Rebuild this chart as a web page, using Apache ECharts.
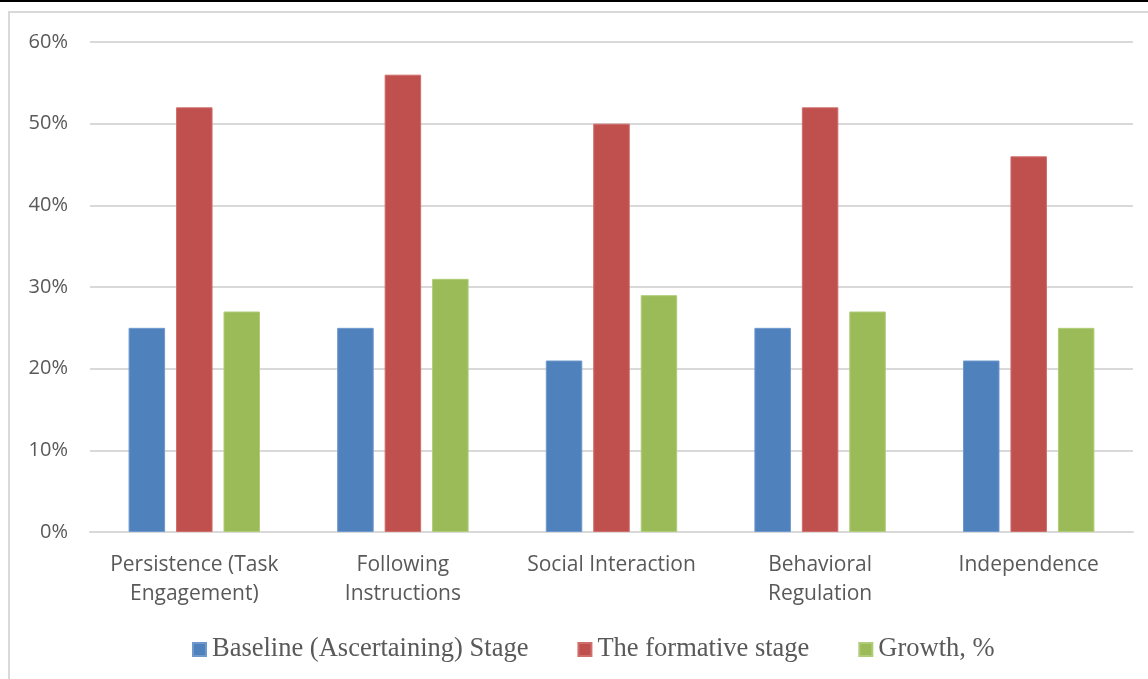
<!DOCTYPE html>
<html>
<head>
<meta charset="utf-8">
<script src="https://cdn.jsdelivr.net/npm/echarts@6/dist/echarts.min.js"></script>
<style>
  html, body { margin: 0; padding: 0; background: #fff; }
  #chart { width: 1148px; height: 679px; }
</style>
</head>
<body>
<div id="chart"></div>
<script>
// categories and values (percent)
const categories = ['Persistence (Task\nEngagement)', 'Following\nInstructions', 'Social Interaction', 'Behavioral\nRegulation', 'Independence'];
const baseline = [25, 25, 21, 25, 21];
const formative = [52, 56, 50, 52, 46];
const growth = [27, 31, 29, 27, 25];
const yTicks = [0, 10, 20, 30, 40, 50, 60];

const myChart = echarts.init(document.getElementById('chart'));

function barSeries(name, data, color, edge) {
  return {
    name: name,
    type: 'bar',
    data: data,
    barWidth: '17.5%',
    barGap: '30%',
    itemStyle: { color: color, borderColor: edge, borderWidth: 1 }
  };
}

const option = {
  animation: false,
  backgroundColor: '#fff',
  graphic: [
    { type: 'rect', shape: { x: 0, y: 0, width: 1148, height: 2 }, style: { fill: '#000' } },
    { type: 'rect', shape: { x: 9, y: 12, width: 1160, height: 700 }, style: { fill: 'none', stroke: '#d9d9d9', lineWidth: 2 } }
  ],
  grid: { left: 90, right: 15, top: 42, bottom: 147 },
  legend: {
    bottom: 11,
    left: 187,
    itemWidth: 13,
    itemHeight: 13,
    itemGap: 49,
    icon: 'rect',
    textStyle: { fontFamily: 'Liberation Serif', fontSize: 26.5, color: '#595959', padding: [0, 0, 0, 1] },
    data: ['Baseline (Ascertaining) Stage', 'The formative stage', 'Growth, %']
  },
  xAxis: {
    type: 'category',
    data: categories,
    axisTick: { show: false },
    axisLine: { lineStyle: { color: '#d9d9d9', width: 2 } },
    axisLabel: { fontFamily: 'Open Sans', fontSize: 21, color: '#595959', lineHeight: 29, margin: 19, interval: 0 }
  },
  yAxis: {
    type: 'value',
    min: yTicks[0],
    max: yTicks[yTicks.length - 1],
    interval: 10,
    axisLine: { show: false },
    axisTick: { show: false },
    splitLine: { lineStyle: { color: '#d9d9d9', width: 2 } },
    axisLabel: { fontFamily: 'Open Sans', fontSize: 20, color: '#595959', margin: 22, formatter: '{value}%' }
  },
  series: [
    barSeries('Baseline (Ascertaining) Stage', baseline, '#4F81BD', '#6f98cc'),
    barSeries('The formative stage', formative, '#C0504D', '#cf6e6b'),
    barSeries('Growth, %', growth, '#9BBB59', '#b0cc78')
  ]
};

myChart.setOption(option);
</script>
</body>
</html>
